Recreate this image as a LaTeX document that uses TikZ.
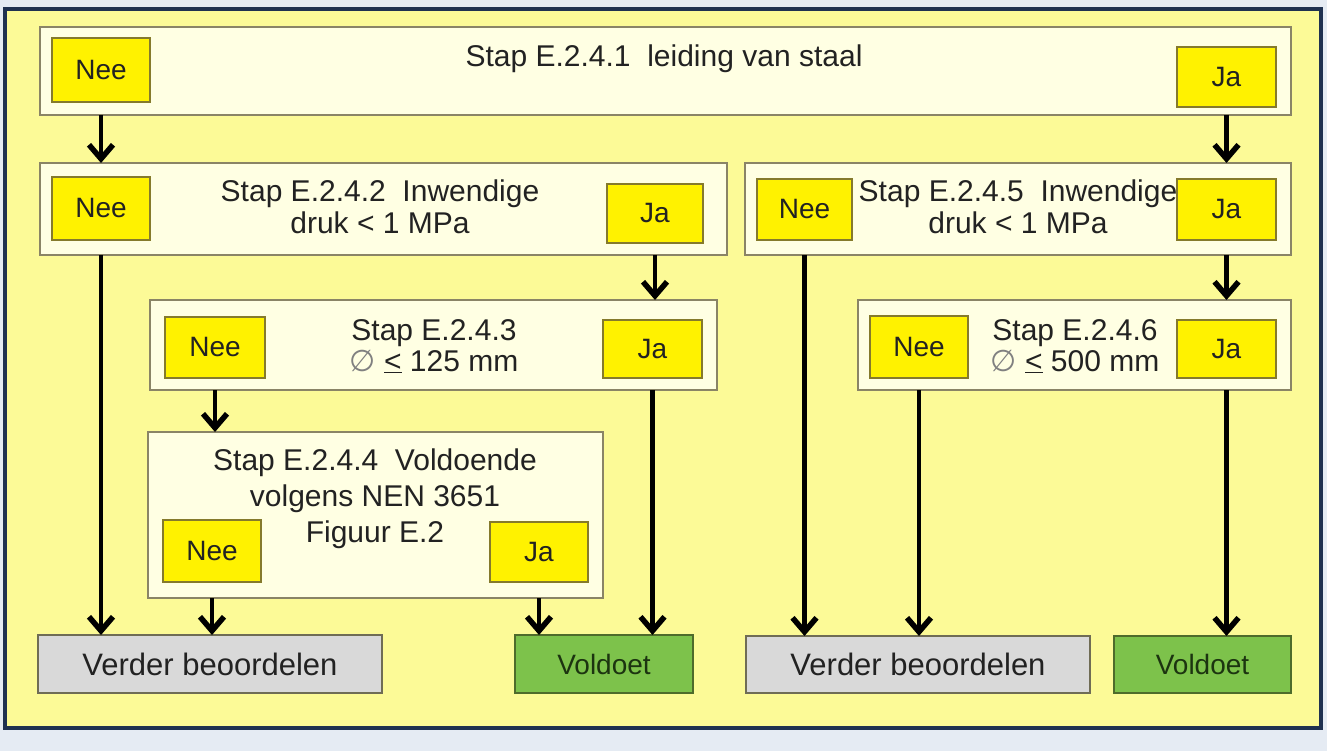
\documentclass[tikz,border=0pt]{standalone}
\usepackage{fontspec}
\setmainfont{Liberation Sans}
\newfontfamily\symfont{DejaVu Sans}
\usetikzlibrary{arrows.meta}
\definecolor{bgblue}{HTML}{E5EBF3}
\definecolor{framenavy}{HTML}{1F3150}
\definecolor{paleyellow}{HTML}{FCFA97}
\definecolor{cream}{HTML}{FFFFE3}
\definecolor{boxline}{HTML}{8A8466}
\definecolor{ynline}{HTML}{857A2C}
\definecolor{grayfill}{HTML}{D9D9D9}
\definecolor{grayline}{HTML}{6F6C55}
\definecolor{greenfill}{HTML}{7DC24B}
\definecolor{greenline}{HTML}{4E6B2B}
\definecolor{txt}{HTML}{222222}
\definecolor{gtxt}{HTML}{1C3410}
\tikzset{
  stepbox/.style={draw=boxline, fill=cream, line width=2.2pt, inner sep=0pt, outer sep=0pt},
  ynbox/.style={draw=ynline, fill=yellow, line width=2pt, inner sep=0pt, outer sep=0pt,
    text=txt, font=\fontsize{28}{30}\selectfont},
  graybox/.style={draw=grayline, fill=grayfill, line width=2pt, inner sep=0pt, outer sep=0pt,
    text=txt, font=\fontsize{31}{34}\selectfont},
  greenbox/.style={draw=greenline, fill=greenfill, line width=2pt, inner sep=0pt, outer sep=0pt,
    text=gtxt, font=\fontsize{28}{30}\selectfont},
  title/.style={anchor=base, inner sep=0pt, text=txt, font=\fontsize{30}{32}\selectfont},
  arr/.style={draw=black, line width=4.2pt, -{Straight Barb[length=14pt,width=24pt,line width=5.5pt]}},
}
\newcommand{\dia}{{\color{gray}\symfont ∅}}
\begin{document}
\begin{tikzpicture}[x=1pt,y=-1pt]
\useasboundingbox (0,0) rectangle (1327,751);
\fill[bgblue] (0,0) rectangle (1327,751);
\draw[framenavy, line width=4pt, fill=paleyellow] (5,9) rectangle (1321,728);

% step boxes
\node[stepbox, minimum width=1251pt, minimum height=88pt] (b1) at (665.5,71) {};
\node[stepbox, minimum width=687pt, minimum height=92pt] (b2) at (383.5,209) {};
\node[stepbox, minimum width=546pt, minimum height=92pt] (b5) at (1018,209) {};
\node[stepbox, minimum width=567pt, minimum height=90pt] (b3) at (433.5,345) {};
\node[stepbox, minimum width=433pt, minimum height=90pt] (b6) at (1074.5,345) {};
\node[stepbox, minimum width=455pt, minimum height=166pt] (b4) at (375.5,515) {};

% titles
\node[title] (t1) at (664,67) {Stap E.2.4.1\ \ leiding van staal};
\node[title] (t2a) at (380,202) {Stap E.2.4.2\ \ Inwendige};
\node[title] (t2b) at (380,234) {druk < 1 MPa};
\node[title] (t5a) at (1018,202) {Stap E.2.4.5\ \ Inwendige};
\node[title] (t5b) at (1018,234) {druk < 1 MPa};
\node[title] (t3a) at (434,340) {Stap E.2.4.3};
\node[title] (t3b) at (434,371) {\dia\ \underline{<} 125 mm};
\node[title] (t6a) at (1075,340) {Stap E.2.4.6};
\node[title] (t6b) at (1075,371) {\dia\ \underline{<} 500 mm};
\node[title] (t4a) at (375,470) {Stap E.2.4.4\ \ Voldoende};
\node[title] (t4b) at (375,506) {volgens NEN 3651};
\node[title] (t4c) at (375,542) {Figuur E.2};

% yes / no boxes
\node[ynbox, minimum width=98pt, minimum height=64pt] (nee1) at (101,70) {Nee};
\node[ynbox, minimum width=99pt, minimum height=60pt] (ja1) at (1226.5,77) {Ja};
\node[ynbox, minimum width=98pt, minimum height=63pt] (nee2) at (101,208.5) {Nee};
\node[ynbox, minimum width=96pt, minimum height=59pt] (ja2) at (655,213.5) {Ja};
\node[ynbox, minimum width=95pt, minimum height=61pt] (nee5) at (804.5,209.5) {Nee};
\node[ynbox, minimum width=99pt, minimum height=61pt] (ja5) at (1226.5,209.5) {Ja};
\node[ynbox, minimum width=100pt, minimum height=61pt] (nee3) at (215,347.5) {Nee};
\node[ynbox, minimum width=99pt, minimum height=58pt] (ja3) at (652.5,349) {Ja};
\node[ynbox, minimum width=98pt, minimum height=62pt] (nee6) at (919,347) {Nee};
\node[ynbox, minimum width=99pt, minimum height=58pt] (ja6) at (1226.5,349) {Ja};
\node[ynbox, minimum width=98pt, minimum height=62pt] (nee4) at (212,551) {Nee};
\node[ynbox, minimum width=98pt, minimum height=60pt] (ja4) at (539,552) {Ja};

% result boxes
\node[graybox, minimum width=344pt, minimum height=58pt] (vL) at (210,664) {Verder beoordelen};
\node[greenbox, minimum width=178pt, minimum height=58pt] (okL) at (604,664) {Voldoet};
\node[graybox, minimum width=344pt, minimum height=57pt] (vR) at (918,664.5) {Verder beoordelen};
\node[greenbox, minimum width=177pt, minimum height=57pt] (okR) at (1202.5,664.5) {Voldoet};

% connectors
\draw[arr] (nee1 |- b1.south) -- (nee1 |- b2.north);
\draw[arr] (ja1 |- b1.south) -- (ja1 |- b5.north);
\draw[arr] (nee2 |- b2.south) -- (nee2 |- vL.north);
\draw[arr] (ja2 |- b2.south) -- (ja2 |- b3.north);
\draw[arr] (nee3 |- b3.south) -- (nee3 |- b4.north);
\draw[arr] (ja3 |- b3.south) -- (ja3 |- okL.north);
\draw[arr] (nee4 |- b4.south) -- (nee4 |- vL.north);
\draw[arr] (ja4 |- b4.south) -- (ja4 |- okL.north);
\draw[arr] (nee5 |- b5.south) -- (nee5 |- vR.north);
\draw[arr] (ja5 |- b5.south) -- (ja5 |- b6.north);
\draw[arr] (nee6 |- b6.south) -- (nee6 |- vR.north);
\draw[arr] (ja6 |- b6.south) -- (ja6 |- okR.north);
\end{tikzpicture}
\end{document}
